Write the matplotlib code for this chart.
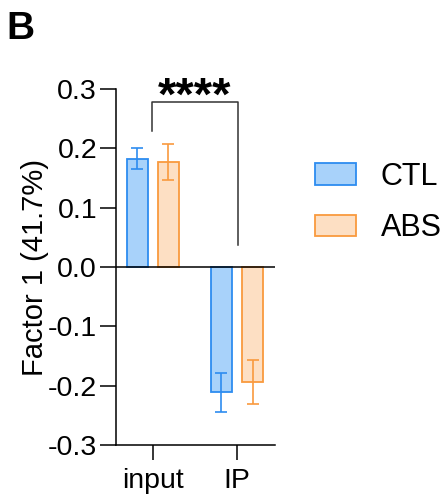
import numpy as np
import matplotlib.pyplot as plt
from matplotlib.patches import Patch

plt.rcParams['font.family'] = ['Liberation Sans', 'DejaVu Sans']

groups = ["input", "IP"]
series = ["CTL", "ABS"]
means = {"CTL": [0.183, -0.211], "ABS": [0.177, -0.194]}
errs = {"CTL": [0.017, 0.033], "ABS": [0.031, 0.037]}
face = {"CTL": "#A8D2FA", "ABS": "#FDDFC3"}
edge = {"CTL": "#2D8CF0", "ABS": "#F99A3E"}
yticks = [-0.3, -0.2, -0.1, 0.0, 0.1, 0.2, 0.3]

fig = plt.figure(figsize=(4.42, 5.01), dpi=100)
ax = fig.add_axes([0.262, 0.112, 0.36, 0.71])

x = np.arange(len(groups))
width = 0.25
offsets = {"CTL": -0.185, "ABS": 0.185}
for s in series:
    ax.bar(x + offsets[s], means[s], width, color=face[s], edgecolor=edge[s], linewidth=1.3, zorder=2)
    ax.errorbar(x + offsets[s], means[s], yerr=errs[s], fmt="none", ecolor=edge[s],
                elinewidth=1.2, capsize=4, capthick=1.2, zorder=3)

ax.axhline(0, color="black", linewidth=1.1, zorder=4)
ax.set_ylim(-0.3, 0.3)
ax.set_xlim(-0.44, 1.45)
ax.set_yticks(yticks)
ax.set_yticklabels([f"{v:.1f}" for v in yticks])
ax.set_xticks(x)
ax.set_xticklabels(groups)
ax.tick_params(axis="y", length=11.5, width=1.1, labelsize=20.5, pad=2)
ax.tick_params(axis="x", length=11, width=1.1, labelsize=20.5, pad=6)
ax.spines["top"].set_visible(False)
ax.spines["right"].set_visible(False)
ax.spines["left"].set_linewidth(1.1)
ax.spines["bottom"].set_linewidth(1.1)
ax.set_ylabel("Factor 1 (41.7%)", fontsize=21, labelpad=-1)

# significance bracket
ax.plot([-0.01, -0.01, 1.007, 1.007], [0.230, 0.279, 0.279, 0.037],
        color="#333333", linewidth=1.1, clip_on=False)
ax.text(0.5, 0.286, "****", ha="center", va="center", fontsize=34, fontweight="bold")

handles = [Patch(facecolor=face[s], edgecolor=edge[s], linewidth=1.3, label=s) for s in series]
fig.legend(handles=handles, loc="center left", bbox_to_anchor=(0.713, 0.596), frameon=False,
           fontsize=22, handlelength=1.35, handleheight=0.7, labelspacing=0.7,
           handletextpad=0.8, borderpad=0, borderaxespad=0)

fig.text(0.015, 0.978, "B", fontsize=28, fontweight="bold", ha="left", va="top")

fig.savefig("out.png", dpi=100)
